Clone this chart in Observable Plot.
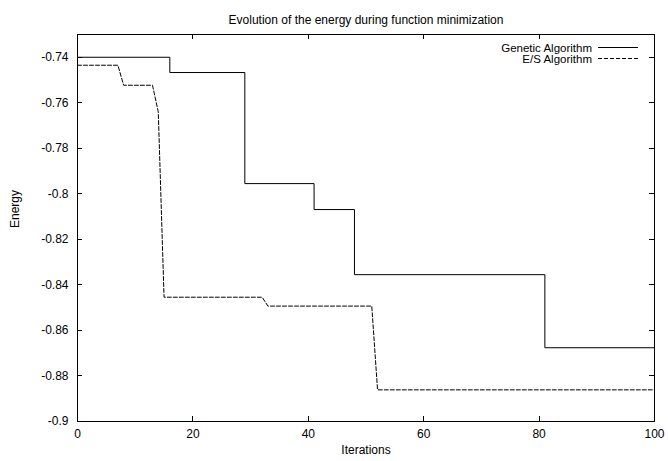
<!DOCTYPE html>
<html>
<head>
<meta charset="utf-8">
<script src="https://cdn.jsdelivr.net/npm/d3@7"></script>
<script src="https://cdn.jsdelivr.net/npm/@observablehq/plot@0.6"></script>
<style>
  html, body { margin: 0; padding: 0; background: #fff; }
  #chart svg { display: block; }
</style>
</head>
<body>
<div id="chart"></div>
<script>
const title = "Evolution of the energy during function minimization";
const xLabel = "Iterations";
const yLabel = "Energy";
const seriesNames = ["Genetic Algorithm", "E/S Algorithm"];

// Genetic Algorithm (drawn as steps)
const gaIter = [0, 16, 29, 41, 48, 81, 100];
const gaEnergy = [-0.74, -0.7467, -0.7955, -0.8069, -0.8355, -0.8676, -0.8676];

// E/S Algorithm (drawn as lines)
const esIter = [0, 7, 8, 13, 14, 15, 32, 33, 51, 52, 100];
const esEnergy = [-0.7435, -0.7435, -0.7523, -0.7523, -0.764, -0.8454, -0.8454, -0.8493, -0.8493, -0.8861, -0.8861];

const xTicks = [0, 20, 40, 60, 80, 100];
const yTicks = [-0.9, -0.88, -0.86, -0.84, -0.82, -0.8, -0.78, -0.76, -0.74];
const xDomain = [0, 100];
const yDomain = [-0.9, -0.73];

const ga = gaIter.map((x, i) => ({x, y: gaEnergy[i]}));
const es = esIter.map((x, i) => ({x, y: esEnergy[i]}));

const fmt = d => String(d);
const W = 668, H = 461;
const mL = 77, mR = 14, mT = 34, mB = 40;
const FONT = "'Liberation Sans', Arial, Helvetica, sans-serif";

const chart = Plot.plot({
  width: W,
  height: H,
  marginLeft: mL,
  marginRight: mR,
  marginTop: mT,
  marginBottom: mB,
  style: {fontFamily: FONT, fontSize: "12px", color: "#000", background: "#fff"},
  x: {domain: xDomain, axis: null},
  y: {domain: yDomain, axis: null},
  marks: [
    Plot.axisX(xTicks, {anchor: "bottom", tickSize: 0, tickPadding: 8, tickFormat: fmt, fill: "#000", label: null}),
    Plot.axisY(yTicks, {anchor: "left", tickSize: 0, tickPadding: 9, tickFormat: fmt, fill: "#000", label: null}),
    Plot.frame({stroke: "#000", strokeWidth: 1}),
    Plot.line(ga, {x: "x", y: "y", curve: "step-after", stroke: "#000", strokeWidth: 1}),
    Plot.line(es, {x: "x", y: "y", stroke: "#000", strokeWidth: 1, strokeDasharray: "4,2"}),
    Plot.text([title], {frameAnchor: "top", dy: -19, fill: "#000", fontSize: 12}),
    Plot.text([xLabel], {frameAnchor: "bottom", dy: 32, fill: "#000", fontSize: 12}),
    Plot.text([yLabel], {frameAnchor: "left", dx: -62, rotate: -90, fill: "#000", fontSize: 12})
  ]
});

document.getElementById("chart").appendChild(chart);

const svg = d3.select(chart);
const sx = chart.scale("x"), sy = chart.scale("y");
const T = 5;
const fTop = mT, fBottom = H - mB, fLeft = mL, fRight = W - mR;

// inward ticks on all four sides (gnuplot style, mirrored)
const tg = svg.append("g").attr("stroke", "#000").attr("stroke-width", 1);
xTicks.forEach(v => {
  const px = Math.round(sx.apply(v)) + 0.5;
  tg.append("line").attr("x1", px).attr("x2", px).attr("y1", fBottom).attr("y2", fBottom - T);
  tg.append("line").attr("x1", px).attr("x2", px).attr("y1", fTop).attr("y2", fTop + T);
});
yTicks.forEach(v => {
  const py = Math.round(sy.apply(v)) + 0.5;
  tg.append("line").attr("y1", py).attr("y2", py).attr("x1", fLeft).attr("x2", fLeft + T);
  tg.append("line").attr("y1", py).attr("y2", py).attr("x1", fRight).attr("x2", fRight - T);
});

// Legend (top-right, inside the frame)
const legendRight = fRight - 62;
const rows = [fTop + 13.5, fTop + 24.5];
const dashes = [null, "4,2"];
const lg = svg.append("g").attr("font-family", FONT).attr("font-size", 11.5);
seriesNames.forEach((name, i) => {
  lg.append("text")
    .attr("x", legendRight)
    .attr("y", rows[i])
    .attr("dy", "0.35em")
    .attr("text-anchor", "end")
    .attr("fill", "#000")
    .text(name);
  lg.append("line")
    .attr("x1", legendRight + 6)
    .attr("x2", legendRight + 46)
    .attr("y1", rows[i])
    .attr("y2", rows[i])
    .attr("stroke", "#000")
    .attr("stroke-width", 1)
    .attr("stroke-dasharray", dashes[i]);
});
</script>
</body>
</html>
